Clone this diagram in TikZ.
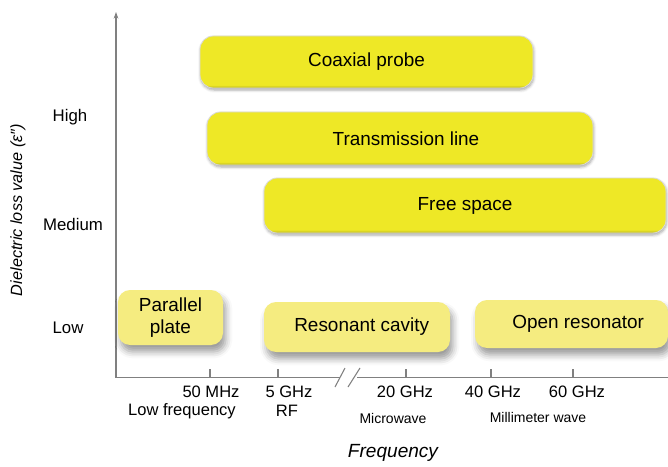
\documentclass[tikz,border=0pt]{standalone}
\usepackage{fontspec}
\setmainfont{Liberation Sans}
\usetikzlibrary{arrows.meta,shadows.blur}
\definecolor{methodyellow}{HTML}{EEE826}
\definecolor{paleyellow}{HTML}{F5EC80}
\definecolor{axisgray}{HTML}{808080}
\pgfdeclareverticalshading{methodshade}{100bp}{color(0bp)=(methodyellow!70!black);
  color(25bp)=(methodyellow!78!black); color(28bp)=(methodyellow); color(100bp)=(methodyellow)}

\tikzset{
  method/.style={rounded corners=10pt,shading=methodshade,draw=gray!30,line width=0.6pt,
    inner sep=0pt,font=\fontsize{14.2}{17}\selectfont,
    blur shadow={shadow xshift=0.5pt,shadow yshift=-1.5pt,shadow opacity=35,shadow blur radius=2pt}},
  lowmethod/.style={rounded corners=9pt,fill=paleyellow,inner sep=0pt,align=center,
    font=\fontsize{14.2}{17}\selectfont,
    blur shadow={shadow xshift=2pt,shadow yshift=-5pt,shadow opacity=40,shadow blur radius=5pt}},
  ticklabel/.style={font=\fontsize{12.4}{14}\selectfont},
  bandlabel/.style={font=\fontsize{10.5}{12}\selectfont},
  levellabel/.style={font=\fontsize{12.6}{14}\selectfont},
}

\begin{document}
\begin{tikzpicture}[x=0.75pt,y=-0.75pt]
        \useasboundingbox (0,0) rectangle (668,467);
        % axes
        \coordinate (o) at (116,377.5);
        \coordinate (ytop) at (116,12);
        \coordinate (xbreakl) at (340,377.5);
        \coordinate (xbreakr) at (357,377.5);
        \coordinate (xend) at (668,377.5);
        \draw[axisgray,line width=1.1pt,-{Stealth[length=5pt,width=3.5pt]}] (o) -- (ytop);
        \draw[axisgray,line width=1.1pt] (o) -- (xbreakl);
        \draw[axisgray,line width=1.1pt] (xbreakr) -- (xend);
        % break marks
        \draw[axisgray,line width=0.8pt] (335,387) -- (345,368);
        \draw[axisgray,line width=0.8pt] (348,387) -- (360,368);
        % ticks
        \foreach \x in {210,278,406,491,573}
            \draw[axisgray,line width=0.8pt] (\x,377.5) -- (\x,369);
        % tick labels
        \node[ticklabel] (t50) at (211,392) {50 MHz};
        \node[ticklabel] (t5) at (289,392) {5 GHz};
        \node[ticklabel] (t20) at (405,392) {20 GHz};
        \node[ticklabel] (t40) at (493,392) {40 GHz};
        \node[ticklabel] (t60) at (577,392) {60 GHz};
        % bands
        \node[ticklabel] (lowf) at (182,411) {Low frequency};
        \node[ticklabel] (rf) at (287,411) {RF};
        \node[bandlabel] (micro) at (393,418) {Microwave};
        \node[bandlabel] (mmw) at (538,417) {Millimeter wave};
        \node[font=\fontsize{14.3}{17}\selectfont\itshape] (xlabel) at (393,453) {Frequency};
        % levels
        \node[levellabel] (high) at (70,117) {High};
        \node[levellabel] (medium) at (73,224) {Medium};
        \node[levellabel] (low) at (68,328) {Low};
        \node[font=\fontsize{12.2}{14}\selectfont\itshape,rotate=90] (ylabel) at (18,210) {Dielectric loss value (ε″)};
        % methods
        \node[method,minimum width=249.75pt,minimum height=39pt] (coax) at (366.5,62) {Coaxial probe};
        \node[method,minimum width=289.5pt,minimum height=39.75pt] (trans) at (400,138.5) {\hspace*{9pt}Transmission line};
        \node[method,minimum width=301.5pt,minimum height=41.25pt] (free) at (465,205.5) {Free space};
        \node[lowmethod,minimum width=78.75pt,minimum height=41.25pt] (plate) at (170.5,317.5) {Parallel\\plate};
        \node[lowmethod,minimum width=139.5pt,minimum height=37.5pt] (cavity) at (357,327) {\hspace*{7pt}Resonant cavity};
        \node[lowmethod,minimum width=144.75pt,minimum height=36pt] (openres) at (571.5,324) {\hspace*{10pt}Open resonator};
\end{tikzpicture}
\end{document}
